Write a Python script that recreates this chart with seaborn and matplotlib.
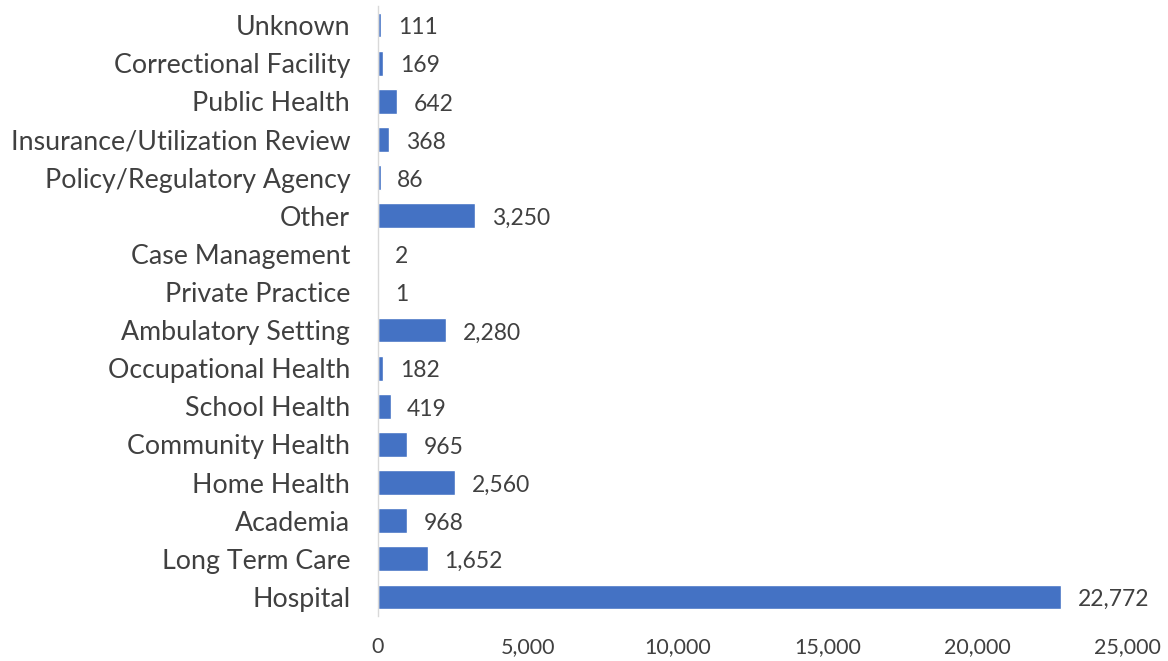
import numpy as np
import matplotlib
matplotlib.use('Agg')
import matplotlib.pyplot as plt
import seaborn as sns
import pandas as pd

# data, top to bottom as in the chart
settings = ['Unknown', 'Correctional Facility', 'Public Health', 'Insurance/Utilization Review',
            'Policy/Regulatory Agency', 'Other', 'Case Management', 'Private Practice',
            'Ambulatory Setting', 'Occupational Health', 'School Health', 'Community Health',
            'Home Health', 'Academia', 'Long Term Care', 'Hospital']
counts = [111, 169, 642, 368, 86, 3250, 2, 1, 2280, 182, 419, 965, 2560, 968, 1652, 22772]
x_ticks = [0, 5000, 10000, 15000, 20000, 25000]

df = pd.DataFrame({'setting': settings, 'count': counts})

sns.set_theme(style='white')
plt.rcParams['font.family'] = ['Lato', 'DejaVu Sans']
text_color = '#404040'

fig = plt.figure(figsize=(11.68, 6.61), dpi=100)
ax = fig.add_axes([0.3236, 0.068, 0.642, 0.923])

sns.barplot(data=df, y='setting', x='count', color='#4472C4', orient='h',
            width=0.65, saturation=1, ax=ax)

for i, v in enumerate(counts):
    ax.annotate(f'{v:,}', xy=(v, i), xytext=(12, -2), textcoords='offset points',
                ha='left', va='center', fontsize=16.5, color=text_color)

ax.set_xlim(0, 25000)
ax.set_ylim(len(settings) - 0.5, -0.5)
ax.set_xticks(x_ticks)
ax.set_xticklabels([f'{t:,}' for t in x_ticks], fontsize=15.5, color=text_color)
ax.tick_params(axis='y', labelsize=19.3, colors=text_color, length=0, pad=20)
ax.tick_params(axis='x', length=0, pad=15)
for lbl in ax.get_yticklabels():
    lbl.set_color(text_color)
ax.set_xlabel('')
ax.set_ylabel('')

for s in ['top', 'right', 'bottom']:
    ax.spines[s].set_visible(False)
ax.spines['left'].set_color('#d9d9d9')
ax.spines['left'].set_linewidth(1)

plt.savefig('out.png', dpi=100)
